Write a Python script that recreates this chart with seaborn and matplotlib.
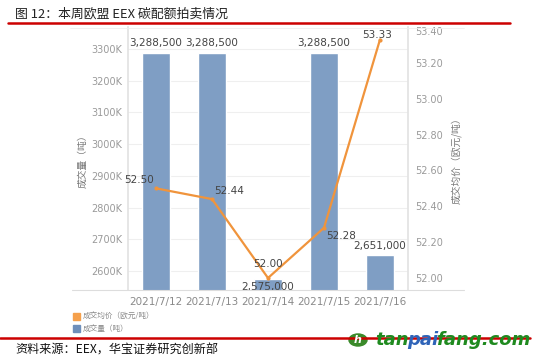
import matplotlib
matplotlib.use("Agg")
import matplotlib.pyplot as plt
import seaborn as sns
import numpy as np
import pandas as pd
from matplotlib.ticker import FuncFormatter, FixedLocator
from matplotlib.lines import Line2D
from matplotlib.patches import Rectangle, Circle

sns.set_theme(style="white")
plt.rcParams['font.family'] = ['DejaVu Sans', 'Noto Sans CJK SC']
CJK = ['Noto Sans CJK SC', 'DejaVu Sans']

# ---- data ----
dates = ["2021/7/12", "2021/7/13", "2021/7/14", "2021/7/15", "2021/7/16"]
volume = [3288500, 3288500, 2575000, 3288500, 2651000]
price = [52.50, 52.44, 52.00, 52.28, 53.33]
volume_labels = ["3,288,500", "3,288,500", "2,575,000", "3,288,500", "2,651,000"]
price_labels = ["52.50", "52.44", "52.00", "52.28", "53.33"]
left_ticks = [2600000, 2700000, 2800000, 2900000, 3000000, 3100000, 3200000, 3300000]
right_ticks = [52.00, 52.20, 52.40, 52.60, 52.80, 53.00, 53.20, 53.40]

title = "图 12：本周欧盟 EEX 碳配额拍卖情况"
source = "资料来源：EEX，华宝证券研究创新部"
ylabel_left = "成交量（吨）"
ylabel_right = "成交均价（欧元/吨）"
legend_price = "成交均价（欧元/吨）"
legend_vol = "成交量（吨）"

BAR_C = "#7f9ec4"
LINE_C = "#f0943c"
GRAY = "#9a9a9a"

W, H = 543, 363
fig = plt.figure(figsize=(W / 100, H / 100), dpi=100)

def fx(px): return px / W
def fy(py): return 1 - py / H

ax = fig.add_axes([fx(128), fy(290), fx(408) - fx(128), fy(27) - fy(290)])
df = pd.DataFrame({"date": dates, "volume": volume, "price": price, "pos": np.arange(len(dates))})

sns.barplot(data=df, x="date", y="volume", color=BAR_C, width=0.49, ax=ax, saturation=1)
ax.set_ylim(2540000, 3369000)
ax.set_xlim(-0.5, len(dates) - 0.5)
ax.yaxis.set_major_locator(FixedLocator(left_ticks))
ax.yaxis.set_major_formatter(FuncFormatter(lambda v, p: f"{int(round(v / 1000))}K"))
ax.grid(axis="y", color="#efefef", linewidth=0.8)
ax.set_axisbelow(True)
ax.tick_params(axis="y", labelsize=7, labelcolor=GRAY, length=0, pad=4)
ax.tick_params(axis="x", labelsize=7.5, labelcolor="#8a8a8a", length=0, pad=5)
ax.set_xlabel("")
ax.set_ylabel(ylabel_left, fontsize=7, color="#777777", labelpad=3, family=CJK)
for s in ["top", "right"]:
    ax.spines[s].set_visible(False)
ax.spines["left"].set_color("#e3e3e3")
ax.spines["bottom"].set_visible(False)

for i, (v, lab) in enumerate(zip(volume, volume_labels)):
    if v < 2600000:
        ax.annotate(lab, (i, v), xytext=(0, -6), textcoords="offset points",
                    ha="center", va="center", fontsize=7.5, color="#444444")
    else:
        ax.annotate(lab, (i, v), xytext=(0, 3), textcoords="offset points",
                    ha="center", va="bottom", fontsize=7.5, color="#444444")

ax2 = ax.twinx()
sns.lineplot(data=df, x="pos", y="price", color=LINE_C, linewidth=1.6, ax=ax2,
             marker="o", markersize=3, markeredgewidth=0)
ax2.set_ylim(51.933, 53.40)
ax2.set_xlim(-0.5, len(dates) - 0.5)
ax2.yaxis.set_major_locator(FixedLocator(right_ticks))
ax2.yaxis.set_major_formatter(FuncFormatter(lambda v, p: f"{v:.2f}"))
ax2.tick_params(axis="y", labelsize=7, labelcolor=GRAY, length=0, pad=5)
ax2.set_xlabel("")
ax2.set_ylabel(ylabel_right, fontsize=7, color="#777777", labelpad=6, family=CJK)
for s in ["top", "left", "bottom"]:
    ax2.spines[s].set_visible(False)
ax2.spines["right"].set_color("#e3e3e3")
ax2.grid(False)
for t in ax2.get_yticklabels():
    if t.get_text() == "53.40":
        t.set_va("top")

offsets = [(-12, 6), (12, 6), (0, 10), (12, -6), (-2, 3)]
for i, (v, lab, off) in enumerate(zip(price, price_labels, offsets)):
    ax2.annotate(lab, (i, v), xytext=off, textcoords="offset points",
                 ha="center", va="center",
                 fontsize=7.5, color="#444444")

ax.set_xticks(range(len(dates)))
ax.set_xticklabels(dates)

# frame lines
fig.add_artist(Line2D([fx(72), fx(464)], [fy(290), fy(290)], color="#dddddd", lw=0.8))
fig.add_artist(Line2D([fx(70), fx(464)], [fy(27.5), fy(27.5)], color="#eeeeee", lw=0.6))

# title and red rules
fig.text(fx(15), fy(14), title, fontsize=9.3, color="#222222", va="center", ha="left", family=CJK)
fig.add_artist(Line2D([fx(8), fx(510)], [fy(23), fy(23)], color="#cc0000", lw=1.8))
fig.add_artist(Line2D([fx(0), fx(530)], [fy(338), fy(338)], color="#cc0000", lw=1.8))

# legend
fig.add_artist(Rectangle((fx(73), fy(320)), fx(7), fy(313) - fy(320), color="#f5a04c", transform=fig.transFigure))
fig.add_artist(Rectangle((fx(73), fy(332)), fx(7), fy(325) - fy(332), color="#6e8fbb", transform=fig.transFigure))
fig.text(fx(83), fy(317), legend_price, fontsize=5.5, color="#888888", va="center", family=CJK)
fig.text(fx(83), fy(328.5), legend_vol, fontsize=5.5, color="#888888", va="center", family=CJK)

# source
fig.text(fx(15), fy(350), source, fontsize=8.7, color="#111111", va="center", family=CJK)

# watermark
fig.add_artist(Circle((fx(358), fy(340)), 9 / W, transform=fig.transFigure, color="#3a8a2a"))
fig.text(fx(358), fy(340), "h", fontsize=8, color="white", ha="center", va="center",
         fontweight="bold", style="italic", family="DejaVu Sans")
fig.canvas.draw()
r = fig.canvas.get_renderer()
x0 = fx(375)
for part, col in [("tan", "#1f8a1f"), ("pai", "#2e63b8"), ("fang.com", "#1f8a1f")]:
    t = fig.text(x0, fy(340), part, fontsize=13, color=col, fontweight="bold", style="italic",
                 family="DejaVu Sans", va="center", ha="left")
    bb = t.get_window_extent(renderer=r)
    x0 += bb.width / W - 0.003

fig.savefig("out.png", dpi=100)
